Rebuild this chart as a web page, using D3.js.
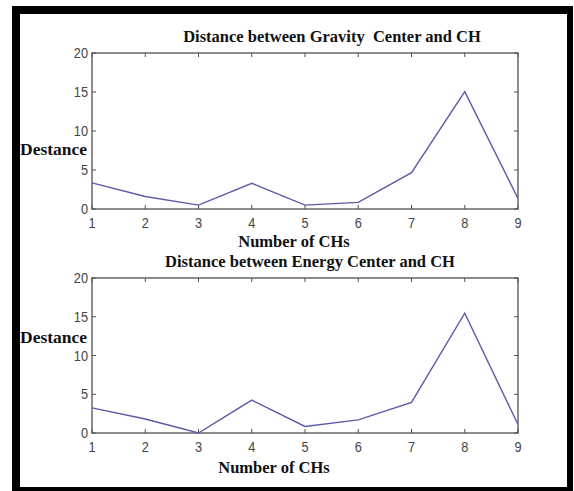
<!DOCTYPE html>
<html>
<head>
<meta charset="utf-8">
<script src="https://cdn.jsdelivr.net/npm/d3@7"></script>
<style>
  html, body { margin: 0; padding: 0; background: #fff; }
  svg { display: block; }
</style>
</head>
<body>
<svg id="chart" width="574" height="491"></svg>
<script>
// Number of cluster heads (x axis)
const chCounts = [1, 2, 3, 4, 5, 6, 7, 8, 9];
// Distance between gravity center and CH
const gravityDistance = [3.35, 1.6, 0.5, 3.3, 0.5, 0.85, 4.65, 15.05, 1.35];
// Distance between energy center and CH
const energyDistance = [3.25, 1.8, 0.0, 4.25, 0.85, 1.7, 3.95, 15.45, 1.1];
// Axis ticks
const yTicks = [0, 5, 10, 15, 20];
const xTicks = [1, 2, 3, 4, 5, 6, 7, 8, 9];

const panels = [
  { title: "Distance between Gravity\u00a0 Center and CH", values: gravityDistance,
    top: 53, bottom: 209, titleX: 332, titleY: 42, ylabY: 154.5, xlabX: 294, xlabY: 247 },
  { title: "Distance between Energy Center and CH", values: energyDistance,
    top: 278, bottom: 433, titleX: 310, titleY: 267, ylabY: 343, xlabX: 274, xlabY: 473 }
];

const svg = d3.select("#chart");

// Outer frame: thick left and top edges, thinner right and bottom edges
svg.append("rect").attr("x", 12).attr("y", 6).attr("width", 8).attr("height", 485).attr("fill", "#000");
svg.append("rect").attr("x", 12).attr("y", 6).attr("width", 561).attr("height", 8).attr("fill", "#000");
svg.append("rect").attr("x", 567).attr("y", 6).attr("width", 6).attr("height", 485).attr("fill", "#000");
svg.append("rect").attr("x", 12).attr("y", 487).attr("width", 561).attr("height", 4).attr("fill", "#000");

const left = 92, right = 518;
const x = d3.scaleLinear().domain([1, 9]).range([left, right]);

const tickFont = "Liberation Sans, Arial, sans-serif";
const serif = "Liberation Serif, Times New Roman, serif";

panels.forEach(p => {
  const y = d3.scaleLinear().domain([0, 20]).range([p.bottom, p.top]);
  const g = svg.append("g");

  // Box
  g.append("rect").attr("x", left).attr("y", p.top)
    .attr("width", right - left).attr("height", p.bottom - p.top)
    .attr("fill", "#fff").attr("stroke", "#505050").attr("stroke-width", 1.3);

  // Inward ticks on all four sides
  const tl = 4;
  xTicks.forEach(t => {
    g.append("line").attr("x1", x(t)).attr("x2", x(t)).attr("y1", p.bottom).attr("y2", p.bottom - tl)
      .attr("stroke", "#505050");
    g.append("line").attr("x1", x(t)).attr("x2", x(t)).attr("y1", p.top).attr("y2", p.top + tl)
      .attr("stroke", "#505050");
  });
  yTicks.forEach(t => {
    g.append("line").attr("x1", left).attr("x2", left + tl).attr("y1", y(t)).attr("y2", y(t))
      .attr("stroke", "#505050");
    g.append("line").attr("x1", right).attr("x2", right - tl).attr("y1", y(t)).attr("y2", y(t))
      .attr("stroke", "#505050");
  });

  // Tick labels (tall, condensed digits)
  g.selectAll("text.xt").data(xTicks).join("text").attr("class", "xt")
    .attr("transform", d => `translate(${x(d)},${p.bottom + 18.5}) scale(0.88,1)`)
    .attr("text-anchor", "middle")
    .attr("font-family", tickFont).attr("font-size", 14.5)
    .attr("fill", "#444").text(d => d);
  g.selectAll("text.yt").data(yTicks).join("text").attr("class", "yt")
    .attr("transform", d => `translate(${left - 4},${y(d) + 5}) scale(0.88,1)`)
    .attr("text-anchor", "end")
    .attr("font-family", tickFont).attr("font-size", 14.5)
    .attr("fill", "#444").text(d => d);

  // Data line
  const line = d3.line().x((d, i) => x(chCounts[i])).y(d => y(d));
  g.append("path").datum(p.values).attr("d", line)
    .attr("fill", "none").attr("stroke", "#5b5aa8").attr("stroke-width", 1.4);

  // Titles and axis labels
  g.append("text").attr("x", p.titleX).attr("y", p.titleY).attr("text-anchor", "middle")
    .attr("font-family", serif).attr("font-weight", "bold").attr("font-size", 16.5)
    .attr("fill", "#111").text(p.title);
  g.append("text").attr("x", 20).attr("y", p.ylabY)
    .attr("font-family", serif).attr("font-weight", "bold").attr("font-size", 16)
    .attr("textLength", 67).attr("lengthAdjust", "spacingAndGlyphs")
    .attr("fill", "#111").text("Destance");
  g.append("text").attr("x", p.xlabX).attr("y", p.xlabY).attr("text-anchor", "middle")
    .attr("font-family", serif).attr("font-weight", "bold").attr("font-size", 16.5)
    .attr("fill", "#111").text("Number of CHs");
});
</script>
</body>
</html>
